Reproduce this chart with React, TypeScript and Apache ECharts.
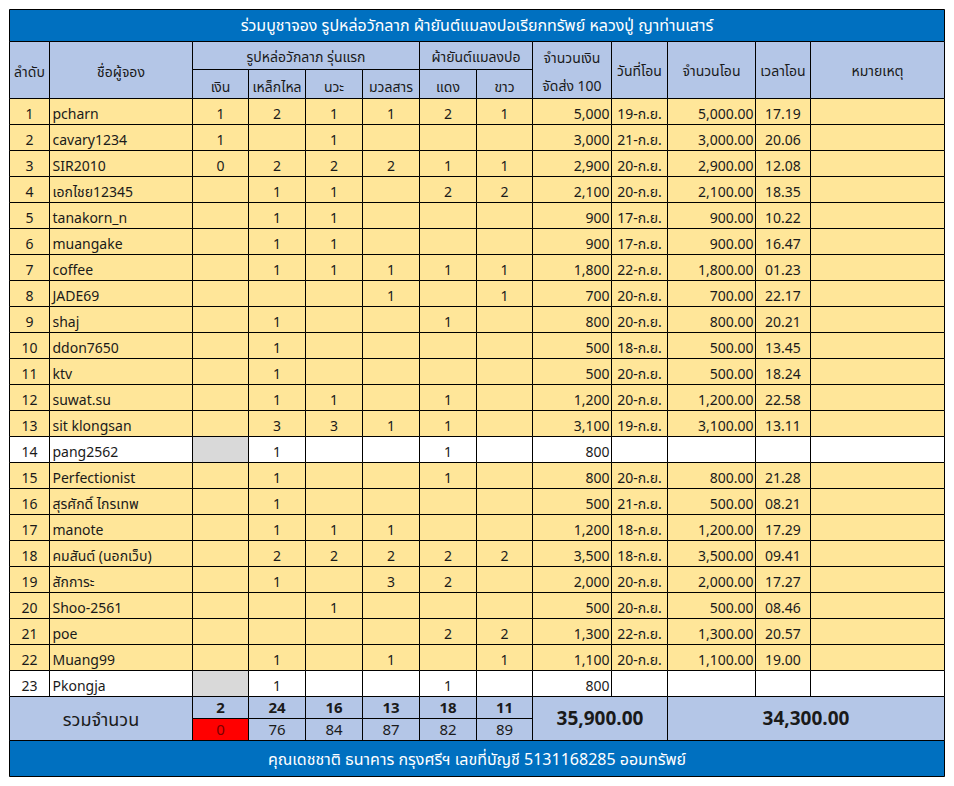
import React, { useEffect, useRef } from "react";
import * as echarts from "echarts";

// ---------- DATA ----------
const TITLE = "ร่วมบูชาจอง รูปหล่อวักลาภ ผ้ายันต์แมลงปอเรียกทรัพย์ หลวงปู่ ญาท่านเสาร์";
const FOOTER = "คุณเดชชาติ ธนาคาร กรุงศรีฯ เลขที่บัญชี 5131168285 ออมทรัพย์";
const GROUP_STATUE = "รูปหล่อวักลาภ รุ่นแรก";
const GROUP_CLOTH = "ผ้ายันต์แมลงปอ";
const STATUE_TYPES = ["เงิน", "เหล็กไหล", "นวะ", "มวลสาร"];
const CLOTH_TYPES = ["แดง", "ขาว"];
const HEAD_NO = "ลำดับ";
const HEAD_NAME = "ชื่อผู้จอง";
const HEAD_AMOUNT = "จำนวนเงิน\nจัดส่ง 100";
const HEAD_DATE = "วันที่โอน";
const HEAD_TRANSFER = "จำนวนโอน";
const HEAD_TIME = "เวลาโอน";
const HEAD_NOTE = "หมายเหตุ";
const SUM_LABEL = "รวมจำนวน";

const NAMES = [
  "pcharn", "cavary1234", "SIR2010", "เอกไชย12345", "tanakorn_n", "muangake",
  "coffee", "JADE69", "shaj", "ddon7650", "ktv", "suwat.su", "sit klongsan",
  "pang2562", "Perfectionist", "สุรศักดิ์ ไกรเทพ", "manote", "คมสันต์ (นอกเว็บ)",
  "สักการะ", "Shoo-2561", "poe", "Muang99", "Pkongja",
];
const SILVER = [1, 1, 0, null, null, null, null, null, null, null, null, null, null, null, null, null, null, null, null, null, null, null, null];
const LEKLAI = [2, null, 2, 1, 1, 1, 1, null, 1, 1, 1, 1, 3, 1, 1, 1, 1, 2, 1, null, null, 1, 1];
const NAWA = [1, 1, 2, 1, 1, 1, 1, null, null, null, null, 1, 3, null, null, null, 1, 2, null, 1, null, null, null];
const MUANSARN = [1, null, 2, null, null, null, 1, 1, null, null, null, null, 1, null, null, null, 1, 2, 3, null, null, 1, null];
const RED = [2, null, 1, 2, null, null, 1, null, 1, null, null, 1, 1, 1, 1, null, null, 2, 2, null, 2, null, 1];
const WHITE = [1, null, 1, 2, null, null, 1, 1, null, null, null, null, null, null, null, null, null, 2, null, null, 2, 1, null];
const AMOUNTS = [5000, 3000, 2900, 2100, 900, 900, 1800, 700, 800, 500, 500, 1200, 3100, 800, 800, 500, 1200, 3500, 2000, 500, 1300, 1100, 800];
const DATES = ["19-ก.ย.", "21-ก.ย.", "20-ก.ย.", "20-ก.ย.", "17-ก.ย.", "17-ก.ย.", "22-ก.ย.", "20-ก.ย.", "20-ก.ย.", "18-ก.ย.", "20-ก.ย.", "20-ก.ย.", "19-ก.ย.", "", "20-ก.ย.", "21-ก.ย.", "18-ก.ย.", "18-ก.ย.", "20-ก.ย.", "20-ก.ย.", "22-ก.ย.", "20-ก.ย.", ""];
const TRANSFERS = [5000, 3000, 2900, 2100, 900, 900, 1800, 700, 800, 500, 500, 1200, 3100, null, 800, 500, 1200, 3500, 2000, 500, 1300, 1100, null];
const TIMES = ["17.19", "20.06", "12.08", "18.35", "10.22", "16.47", "01.23", "22.17", "20.21", "13.45", "18.24", "22.58", "13.11", "", "21.28", "08.21", "17.29", "09.41", "17.27", "08.46", "20.57", "19.00", ""];
const REMAINING = [0, 76, 84, 87, 82, 89];

// ---------- LAYOUT ----------
const COL_EDGES = [0, 40, 183, 239, 296, 353, 410, 467, 523, 602, 658, 746, 801, 935];
const DATA_TOP = 89;
const DATA_ROW_H = 26;
const ROW_EDGES: number[] = [0, 32, 60, DATA_TOP];
for (let i = 1; i <= NAMES.length; i++) ROW_EDGES.push(DATA_TOP + DATA_ROW_H * i);
const SUM_TOP_IDX = ROW_EDGES.length - 1;
ROW_EDGES.push(709, 731, 767);
const TOTAL_W = 935;
const TOTAL_H = 767;

const BLUE = "#0070C0";
const HEAD_BG = "#B4C6E7";
const YELLOW = "#FFE699";
const GRAY = "#D9D9D9";
const REDC = "#FF0000";
const TXT = "#1a1a1a";
const FONT = "'Noto Sans Thai', 'Noto Sans', 'DejaVu Sans', sans-serif";

type Cell = {
  c0: number; c1: number; r0: number; r1: number;
  text: string; fill: string; align?: "left" | "center" | "right";
  size?: number; bold?: boolean; color?: string; dy?: number; lh?: number;
};

const fmt0 = (v: number) => v.toLocaleString("en-US");
const fmt2 = (v: number) => v.toLocaleString("en-US", { minimumFractionDigits: 2, maximumFractionDigits: 2 });

function buildCells(): Cell[] {
  const cells: Cell[] = [];
  cells.push({ c0: 0, c1: 13, r0: 0, r1: 1, text: TITLE, fill: BLUE, color: "#ffffff", size: 16, dy: 0 });
  // header
  cells.push({ c0: 0, c1: 1, r0: 1, r1: 3, text: HEAD_NO, fill: HEAD_BG, dy: 2 });
  cells.push({ c0: 1, c1: 2, r0: 1, r1: 3, text: HEAD_NAME, fill: HEAD_BG, dy: 2 });
  cells.push({ c0: 2, c1: 6, r0: 1, r1: 2, text: GROUP_STATUE, fill: HEAD_BG, dy: 2 });
  STATUE_TYPES.forEach((t, i) => cells.push({ c0: 2 + i, c1: 3 + i, r0: 2, r1: 3, text: t, fill: HEAD_BG, dy: 3 }));
  cells.push({ c0: 6, c1: 8, r0: 1, r1: 2, text: GROUP_CLOTH, fill: HEAD_BG, dy: 2 });
  CLOTH_TYPES.forEach((t, i) => cells.push({ c0: 6 + i, c1: 7 + i, r0: 2, r1: 3, text: t, fill: HEAD_BG, dy: 3 }));
  cells.push({ c0: 8, c1: 9, r0: 1, r1: 3, text: HEAD_AMOUNT, fill: HEAD_BG, dy: 2.5, lh: 28 });
  cells.push({ c0: 9, c1: 10, r0: 1, r1: 3, text: HEAD_DATE, fill: HEAD_BG, dy: 1 });
  cells.push({ c0: 10, c1: 11, r0: 1, r1: 3, text: HEAD_TRANSFER, fill: HEAD_BG, dy: 1 });
  cells.push({ c0: 11, c1: 12, r0: 1, r1: 3, text: HEAD_TIME, fill: HEAD_BG, dy: 1 });
  cells.push({ c0: 12, c1: 13, r0: 1, r1: 3, text: HEAD_NOTE, fill: HEAD_BG, dy: 1 });
  // data rows
  const counts = [SILVER, LEKLAI, NAWA, MUANSARN, RED, WHITE];
  NAMES.forEach((name, i) => {
    const r = 3 + i;
    const pending = DATES[i] === "";
    const bg = pending ? "#ffffff" : YELLOW;
    cells.push({ c0: 0, c1: 1, r0: r, r1: r + 1, text: String(i + 1), fill: bg });
    cells.push({ c0: 1, c1: 2, r0: r, r1: r + 1, text: name, fill: bg, align: "left" });
    counts.forEach((arr, k) => {
      const v = arr[i];
      const fill = pending && k === 0 ? GRAY : bg;
      cells.push({ c0: 2 + k, c1: 3 + k, r0: r, r1: r + 1, text: v == null ? "" : String(v), fill });
    });
    cells.push({ c0: 8, c1: 9, r0: r, r1: r + 1, text: fmt0(AMOUNTS[i]), fill: bg, align: "right" });
    cells.push({ c0: 9, c1: 10, r0: r, r1: r + 1, text: DATES[i], fill: bg });
    const tr = TRANSFERS[i];
    cells.push({ c0: 10, c1: 11, r0: r, r1: r + 1, text: tr == null ? "" : fmt2(tr), fill: bg, align: "right" });
    cells.push({ c0: 11, c1: 12, r0: r, r1: r + 1, text: TIMES[i], fill: bg });
    cells.push({ c0: 12, c1: 13, r0: r, r1: r + 1, text: "", fill: bg });
  });
  // summary
  const s = SUM_TOP_IDX;
  cells.push({ c0: 0, c1: 2, r0: s, r1: s + 2, text: SUM_LABEL, fill: HEAD_BG, size: 18, dy: 2 });
  counts.forEach((arr, k) => {
    const total = arr.reduce((a: number, b) => a + (b ?? 0), 0);
    cells.push({ c0: 2 + k, c1: 3 + k, r0: s, r1: s + 1, text: String(total), fill: HEAD_BG, bold: true, size: 15, dy: 1 });
    cells.push({
      c0: 2 + k, c1: 3 + k, r0: s + 1, r1: s + 2, text: String(REMAINING[k]),
      fill: REMAINING[k] === 0 ? REDC : HEAD_BG, color: REMAINING[k] === 0 ? "#7a0000" : TXT, size: 15, dy: 1,
    });
  });
  const sumAmount = AMOUNTS.reduce((a, b) => a + b, 0);
  const sumTransfer = TRANSFERS.reduce((a: number, b) => a + (b ?? 0), 0);
  cells.push({ c0: 8, c1: 10, r0: s, r1: s + 2, text: fmt2(sumAmount), fill: HEAD_BG, size: 19, bold: true, dy: 1 });
  cells.push({ c0: 10, c1: 13, r0: s, r1: s + 2, text: fmt2(sumTransfer), fill: HEAD_BG, size: 19, bold: true, dy: 1 });
  // footer
  cells.push({ c0: 0, c1: 13, r0: s + 2, r1: s + 3, text: FOOTER, fill: BLUE, color: "#ffffff", size: 16, dy: 1 });
  return cells;
}

const CELLS = buildCells();

export default function App() {
  const ref = useRef<HTMLDivElement>(null);
  useEffect(() => {
    if (!ref.current) return;
    const chart = echarts.init(ref.current, undefined, { renderer: "svg" });
    chart.setOption({
      animation: false,
      backgroundColor: "#ffffff",
      grid: { left: 9.5, top: 9.5, width: TOTAL_W, height: TOTAL_H, containLabel: false },
      xAxis: { type: "value", min: 0, max: TOTAL_W, show: false },
      yAxis: { type: "value", min: 0, max: TOTAL_H, inverse: true, show: false },
      series: [
        {
          type: "custom",
          clip: false,
          silent: true,
          encode: { x: [0, 2], y: [1, 3] },
          data: CELLS.map((c) => [COL_EDGES[c.c0], ROW_EDGES[c.r0], COL_EDGES[c.c1], ROW_EDGES[c.r1]]),
          renderItem: (params: any, api: any) => {
            const c = CELLS[params.dataIndex];
            const p0 = api.coord([api.value(0), api.value(1)]);
            const p1 = api.coord([api.value(2), api.value(3)]);
            const x0 = p0[0], y0 = p0[1], x1 = p1[0], y1 = p1[1];
            const align = c.align || "center";
            const tx = align === "left" ? x0 + 3 : align === "right" ? x1 - 2 : (x0 + x1) / 2;
            const ty = (y0 + y1) / 2 + (c.dy ?? 3);
            return {
              type: "group",
              children: [
                { type: "rect", shape: { x: x0, y: y0, width: x1 - x0, height: y1 - y0 }, style: { fill: c.fill, stroke: "#000000", lineWidth: 1 } },
                {
                  type: "text",
                  style: {
                    text: c.text, x: tx, y: ty, align, verticalAlign: "middle",
                    fill: c.color || TXT, fontSize: c.size || 14, fontFamily: FONT,
                    fontWeight: c.bold ? "bold" : "normal", lineHeight: c.lh,
                  },
                },
              ],
            };
          },
        },
      ],
    });
    return () => chart.dispose();
  }, []);
  return <div ref={ref} style={{ position: "absolute", left: 0, top: 0, width: 954, height: 786 }} />;
}
